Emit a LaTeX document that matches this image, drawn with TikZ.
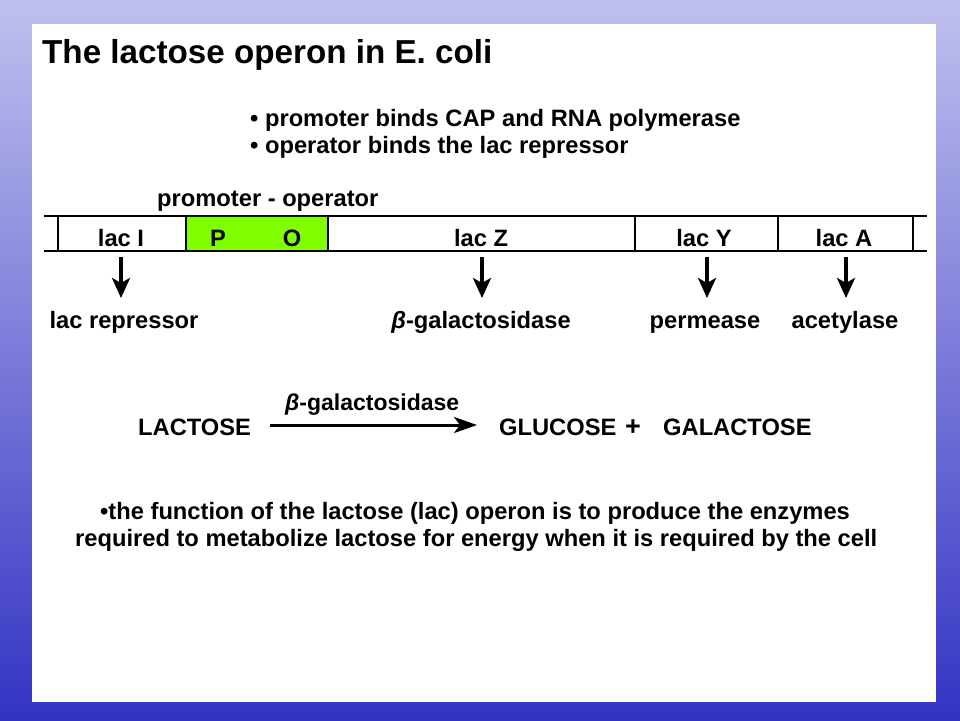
\documentclass[tikz,border=0pt]{standalone}
\usepackage{fontspec}
\setmainfont{Liberation Sans}
\usetikzlibrary{arrows.meta}
\definecolor{bgtop}{RGB}{192,192,238}
\definecolor{bgbot}{RGB}{51,51,196}
\definecolor{pogreen}{RGB}{128,255,0}
\tikzset{
  txt/.style={inner sep=0pt, anchor=base west, font=\fontsize{23.7}{28}\selectfont\bfseries},
  ctxt/.style={inner sep=0pt, anchor=base, font=\fontsize{23.7}{28}\selectfont\bfseries},
  downarrow/.style={line width=3.2pt, -{Stealth[length=20pt,width=18pt,inset=5pt]}},
  rxnarrow/.style={line width=3pt, -{Stealth[length=23pt,width=16pt,inset=6pt]}},
}
\begin{document}
\begin{tikzpicture}[x=1pt,y=-1pt]
\useasboundingbox (0,0) rectangle (960,720);
\shade[top color=bgtop,bottom color=bgbot] (0,0) rectangle (960,720);
\fill[white] (32,24) rectangle (936,702);

% title
\node[txt, font=\fontsize{33.2}{38}\selectfont\bfseries] (title) at (42,63) {The lactose operon in E. coli};

% bullets
\node[txt] (b1) at (250,126) {• promoter binds CAP and RNA polymerase};
\node[txt] (b2) at (250,153) {• operator binds the lac repressor};

\node[txt] (po) at (157,206) {promoter - operator};

% operon bar
\fill[pogreen] (186,216) rectangle (328,251);
\draw[line width=2pt] (44,216) -- (927,216);
\draw[line width=2pt] (44,251) -- (927,251);
\foreach \xx in {58,186,328,635,778,913}{
  \draw[line width=2pt] (\xx,216) -- (\xx,251);
}
\node[ctxt] (lacI) at (121,246) {lac I};
\node[ctxt] (P) at (218,246) {P};
\node[ctxt] (O) at (292,246) {O};
\node[ctxt] (lacZ) at (481,246) {lac Z};
\node[ctxt] (lacY) at (704,246) {lac Y};
\node[ctxt] (lacA) at (844,246) {lac A};

% products
\node[ctxt] (rep) at (124,328) {lac repressor};
\node[ctxt] (bgal) at (481,328) {{\itshape β}-galactosidase};
\node[ctxt] (perm) at (705,328) {permease};
\node[ctxt] (acet) at (845,328) {acetylase};

\coordinate (aI1) at (121,257); \coordinate (aI2) at (121,298);
\coordinate (aZ1) at (482,257); \coordinate (aZ2) at (482,298);
\coordinate (aY1) at (707,257); \coordinate (aY2) at (707,298);
\coordinate (aA1) at (846,257); \coordinate (aA2) at (846,298);
\draw[downarrow] (aI1) -- (aI2);
\draw[downarrow] (aZ1) -- (aZ2);
\draw[downarrow] (aY1) -- (aY2);
\draw[downarrow] (aA1) -- (aA2);

% reaction
\node[txt] (lac) at (138,435) {LACTOSE};
\node[txt] (glu) at (499,435) {GLUCOSE};
\node[txt, font=\fontsize{27}{30}\selectfont\bfseries] (plus) at (625,435) {+};
\node[txt] (gal) at (663,435) {GALACTOSE};
\node[txt, font=\fontsize{23}{28}\selectfont\bfseries] (enz) at (285,410) {{\itshape β}-galactosidase};
\coordinate (r1) at (270,425); \coordinate (r2) at (477,425);
\draw[rxnarrow] (r1) -- (r2);

% bottom text
\node[txt] (f1) at (100,519) {•the function of the lactose (lac) operon is to produce the enzymes};
\node[txt] (f2) at (75,546) {required to metabolize lactose for energy when it is required by the cell};
\end{tikzpicture}
\end{document}
